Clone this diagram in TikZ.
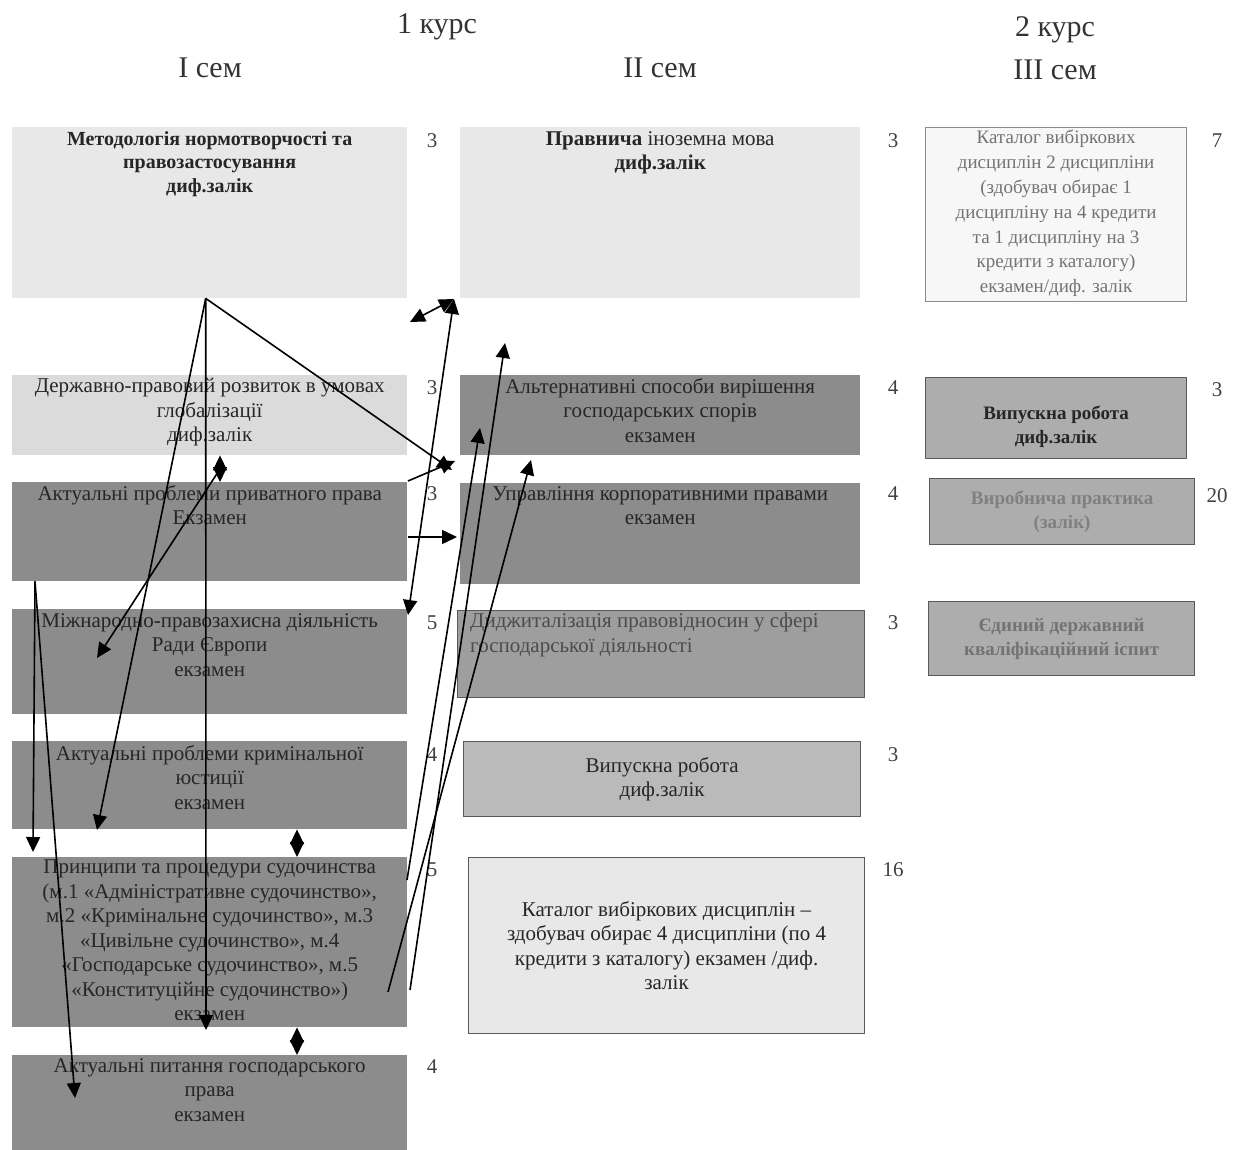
\documentclass[tikz,border=0pt]{standalone}
\usepackage{fontspec}
\setmainfont{Liberation Serif}
\usetikzlibrary{positioning, arrows.meta}
\definecolor{palebox}{gray}{0.91}
\definecolor{lightbox}{gray}{0.86}
\definecolor{darkbox}{gray}{0.55}
\definecolor{midbox}{gray}{0.62}
\definecolor{softbox}{gray}{0.73}
\definecolor{greybox}{gray}{0.68}
\definecolor{framegray}{gray}{0.35}

\begin{document}
\begin{tikzpicture}[x=1pt, y=-1pt,
    every node/.style = {font=\fontsize{21}{24.5}\selectfont},
    box/.style = {rectangle, inner sep=0pt, anchor=north west},
    pale/.style = {box, fill=palebox},
    light/.style = {box, fill=lightbox},
    dark/.style = {box, fill=darkbox},
    framed/.style = {box, draw=framegray, line width=1.2pt},
    txt/.style = {align=center, inner sep=0pt, anchor=north, text=black!85},
    credit/.style = {inner sep=0pt, text=black!75},
    head/.style = {inner sep=0pt, font=\fontsize{30}{33}\selectfont, text=black!80},
    path/.style = {-{Triangle[length=15pt, width=14pt]}, line width=1.6pt},
    twoway/.style = {{Triangle[length=15pt, width=14pt]}-{Triangle[length=15pt, width=14pt]}, line width=1.6pt},
    ]
    \useasboundingbox (0,0) rectangle (1233,1150);

    % headings
    \node [head] (kurs1) at (437,27) {1 курс};
    \node [head] (sem1)  at (210,68) {I сем};
    \node [head] (sem2)  at (660,68) {II сем};
    \node [head] (kurs2) at (1055,30) {2 курс};
    \node [head] (sem3)  at (1055,70) {III сем};

    % first semester
    \node [pale,  minimum width=395pt, minimum height=171pt] (metod)    at (12,127)  {};
    \node [light, minimum width=395pt, minimum height=80pt]  (derzh)    at (12,375)  {};
    \node [dark,  minimum width=395pt, minimum height=99pt]  (pryv)     at (12,482)  {};
    \node [dark,  minimum width=395pt, minimum height=105pt] (mizhn)    at (12,609)  {};
    \node [dark,  minimum width=395pt, minimum height=88pt]  (krym)     at (12,741)  {};
    \node [dark,  minimum width=395pt, minimum height=170pt] (pryntsyp) at (12,857)  {};
    \node [dark,  minimum width=395pt, minimum height=95pt]  (hosp)     at (12,1055) {};

    \node [txt, font=\fontsize{20}{23.5}\selectfont\bfseries, below=4pt of metod.north]
        {Методологія нормотворчості та\\правозастосування\\диф.залік};
    \node [txt, below=3pt of derzh.north] {Державно-правовий розвиток в умовах\\глобалізації\\диф.залік};
    \node [txt, below=3pt of pryv.north] {Актуальні проблеми приватного права\\Екзамен};
    \node [txt, below=4pt of mizhn.north] {Міжнародно-правозахисна діяльність\\Ради Європи\\екзамен};
    \node [txt, below=4pt of krym.north] {Актуальні проблеми кримінальної\\юстиції\\екзамен};
    \node [txt, below=3pt of pryntsyp.north] {Принципи та процедури судочинства\\(м.1 «Адміністративне судочинство»,\\м.2 «Кримінальне судочинство», м.3\\«Цивільне судочинство», м.4\\«Господарське судочинство», м.5\\«Конституційне судочинство»)\\екзамен};
    \node [txt, below=3pt of hosp.north] {Актуальні питання господарського\\права\\екзамен};

    \node [credit] (c-metod)    at (432,141)  {3};
    \node [credit] (c-derzh)    at (432,388)  {3};
    \node [credit] (c-pryv)     at (432,494)  {3};
    \node [credit] (c-mizhn)    at (432,623)  {5};
    \node [credit] (c-krym)     at (432,755)  {4};
    \node [credit] (c-pryntsyp) at (432,870)  {5};
    \node [credit] (c-hosp)     at (432,1067) {4};

    % second semester
    \node [pale, minimum width=400pt, minimum height=171pt] (pravn) at (460,127) {};
    \node [dark, minimum width=400pt, minimum height=80pt]  (alter) at (460,375) {};
    \node [dark, minimum width=400pt, minimum height=101pt] (upr)   at (460,483) {};
    \node [framed, fill=midbox,  minimum width=407pt, minimum height=87pt]  (dydzh) at (457,610) {};
    \node [framed, fill=softbox, minimum width=397pt, minimum height=75pt]  (vyp)   at (463,741) {};
    \node [framed, fill=palebox, minimum width=396pt, minimum height=176pt] (katal) at (468,857) {};

    \node [txt, below=4pt of pravn.north] {\textbf{Правнича} іноземна мова\\\textbf{диф.залік}};
    \node [txt, below=3pt of alter.north] {Альтернативні способи вирішення\\господарських спорів\\екзамен};
    \node [txt, below=3pt of upr.north] {Управління корпоративними правами\\екзамен};
    \node [txt, align=left, anchor=north west, text=black!70] at (470,613)
        {Диджиталізація правовідносин у сфері\\господарської діяльності};
    \node [txt, anchor=center] at (vyp.center) {Випускна робота\\диф.залік};
    \node [txt, anchor=center] at (katal.center) {Каталог вибіркових дисциплін –\\здобувач обирає 4 дисципліни (по 4\\кредити з каталогу) екзамен /диф.\\залік};

    \node [credit] (c-pravn) at (893,141) {3};
    \node [credit] (c-alter) at (893,388) {4};
    \node [credit] (c-upr)   at (893,494) {4};
    \node [credit] (c-dydzh) at (893,623) {3};
    \node [credit] (c-vyp)   at (893,755) {3};
    \node [credit] (c-katal) at (893,870) {16};

    % third semester
    \node [framed, draw=black!45, fill=black!3, minimum width=261pt, minimum height=174pt] (katal2) at (925,127) {};
    \node [framed, fill=greybox, minimum width=261pt, minimum height=81pt] (dypl)  at (925,377) {};
    \node [framed, fill=greybox, minimum width=265pt, minimum height=66pt] (vyrob) at (929,478) {};
    \node [framed, fill=greybox, minimum width=266pt, minimum height=74pt] (yedyn) at (928,601) {};

    \node [txt, font=\fontsize{19}{24.8}\selectfont, text=black!55, below=3pt of katal2.north]
        {Каталог вибіркових\\дисциплін 2 дисципліни\\(здобувач обирає 1\\дисципліну на 4 кредити\\та 1 дисципліну на 3\\кредити з каталогу)\\екзамен/диф. залік};
    \node [txt, anchor=center, font=\fontsize{19}{24}\selectfont\bfseries, text=black!85, yshift=-9pt] at (dypl.center) {Випускна робота\\диф.залік};
    \node [txt, anchor=center, font=\fontsize{19}{24}\selectfont\bfseries, text=black!50] at (vyrob.center) {Виробнича практика\\(залік)};
    \node [txt, anchor=center, font=\fontsize{19}{24}\selectfont\bfseries, text=black!55] at (yedyn.center) {Єдиний державний\\кваліфікаційний іспит};

    \node [credit] (c-katal2) at (1217,141) {7};
    \node [credit] (c-dypl)   at (1217,390) {3};
    \node [credit] (c-vyrob)  at (1217,496) {20};

    % arrow ends
    \coordinate (p)  at ([xshift=-4pt]metod.south);
    \coordinate (q)  at ([xshift=23pt]pryv.south west);
    \coordinate (a1) at (452,470);
    \coordinate (a2) at (97,830);
    \coordinate (a3) at (206,1030);
    \coordinate (a4) at (408,481);
    \coordinate (a5) at (455,461);
    \coordinate (a6) at (410,322);
    \coordinate (a7) at (454,299);
    \coordinate (a8) at (408,615);
    \coordinate (a9) at (408,537);
    \coordinate (a10) at (457,537);
    \coordinate (b1) at (407,880);
    \coordinate (b2) at (480,428);
    \coordinate (b3) at (410,990);
    \coordinate (b4) at (505,343);
    \coordinate (b5) at (388,992);
    \coordinate (b6) at (531,460);
    \coordinate (d1) at (220,469);
    \coordinate (d2) at (97,658);
    \coordinate (e1) at (33,852);
    \coordinate (e2) at (75,1098);

    % connectors
    \draw [path] (p) -- (a1);
    \draw [path] (p) -- (a2);
    \draw [path] (p) -- (a3);
    \draw [path] (a4) -- (a5);
    \draw [path] (a9) -- (a10);
    \draw [twoway] (a6) -- (a7);
    \draw [twoway] (a8) -- (a7);
    \draw [path] (b1) -- (b2);
    \draw [path] (b3) -- (b4);
    \draw [path] (b5) -- (b6);
    \draw [path] (d1) -- (d2);
    \draw [twoway] ([xshift=208pt]derzh.south west) -- ([xshift=208pt]pryv.north west);
    \draw [twoway] ([xshift=285pt]krym.south west) -- ([xshift=285pt]pryntsyp.north west);
    \draw [twoway] ([xshift=285pt]pryntsyp.south west) -- ([xshift=285pt]hosp.north west);
    \draw [path] (q) -- (e1);
    \draw [path] (q) -- (e2);
\end{tikzpicture}
\end{document}
